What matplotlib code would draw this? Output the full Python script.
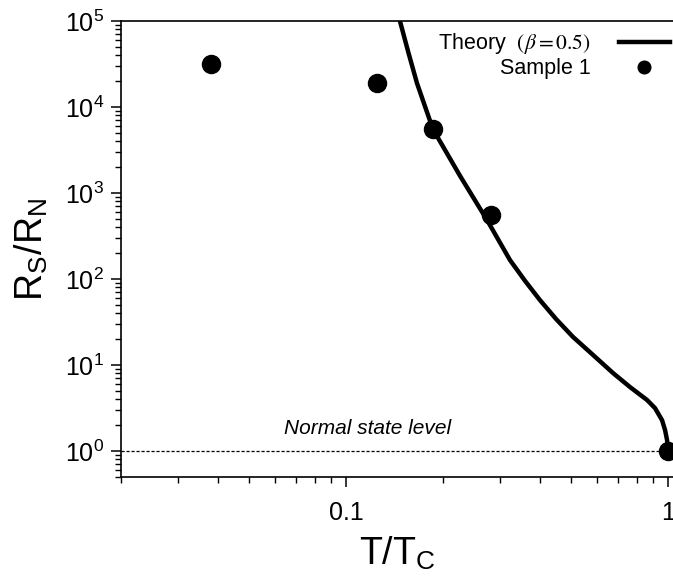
import matplotlib
matplotlib.use("Agg")
import matplotlib.pyplot as plt
from matplotlib.ticker import LogLocator, NullFormatter, FixedLocator, FixedFormatter

plt.rcParams['font.family'] = ['Liberation Sans', 'DejaVu Sans']
plt.rcParams['mathtext.fontset'] = 'stix'

# Data
sample_T = [0.038, 0.125, 0.186, 0.282, 1.0]
sample_R = [31600, 19000, 5550, 555, 1.0]

theory_T = [0.147, 0.156, 0.166, 0.186, 0.226, 0.274, 0.323, 0.360, 0.400, 0.449,
            0.507, 0.585, 0.675, 0.762, 0.861, 0.911, 0.958, 0.979, 0.993, 1.0]
theory_R = [1.0e5, 43600, 1.9e4, 5550, 1580, 486, 166, 94.8, 57, 34.3,
            21.2, 13.1, 8.07, 5.55, 3.92, 3.16, 2.29, 1.75, 1.34, 1.0]

normal_level = 1.0

fig = plt.figure(figsize=(6.73, 5.85), dpi=100)
ax = fig.add_axes([121/673, 1-477/585, 1-121/673, (477-21)/585])

ax.plot(theory_T, theory_R, color='black', lw=3.2, label=r'Theory  $(\beta = 0.5)$', zorder=3,
        solid_joinstyle='round')
ax.plot(sample_T, sample_R, 'o', color='black', ms=13, label='Sample 1', zorder=4)
ax.axhline(normal_level, color='black', lw=0.9, ls=(0, (2.5, 1.5)), zorder=2)
ax.text(0.117, 1.85, 'Normal state level', style='italic', fontsize=15, ha='center', va='center')

ax.set_xscale('log')
ax.set_yscale('log')
ax.set_xlim(0.02, 1.036)
ax.set_ylim(0.5, 1e5)

ax.xaxis.set_major_locator(FixedLocator([0.1, 1]))
ax.xaxis.set_major_formatter(FixedFormatter(['0.1', '1']))
ax.xaxis.set_minor_locator(LogLocator(base=10, subs=range(2, 10)))
ax.xaxis.set_minor_formatter(NullFormatter())
ax.yaxis.set_major_locator(LogLocator(base=10, numticks=10))
ax.yaxis.set_minor_locator(LogLocator(base=10, subs=range(2, 10), numticks=20))
ax.yaxis.set_minor_formatter(NullFormatter())

ax.tick_params(which='major', direction='out', length=7, width=1.1, labelsize=18, pad=5)
ax.tick_params(which='minor', direction='out', length=4, width=1.0)
ax.tick_params(axis='x', which='major', pad=10)

ax.spines['right'].set_visible(False)
for s in ['left', 'top', 'bottom']:
    ax.spines[s].set_linewidth(1.2)

ax.set_xlabel(r'T/T$_\mathregular{C}$', fontsize=27, labelpad=8)
ax.set_ylabel(r'R$_\mathregular{S}$/R$_\mathregular{N}$', fontsize=27, labelpad=10)

leg = ax.legend(loc='upper right', bbox_to_anchor=(1.03, 1.02), frameon=False, markerfirst=False,
                fontsize=15.5, handlelength=2.4, handletextpad=1.3, labelspacing=0.1, markerscale=0.7)

fig.savefig('out.png', dpi=100)
